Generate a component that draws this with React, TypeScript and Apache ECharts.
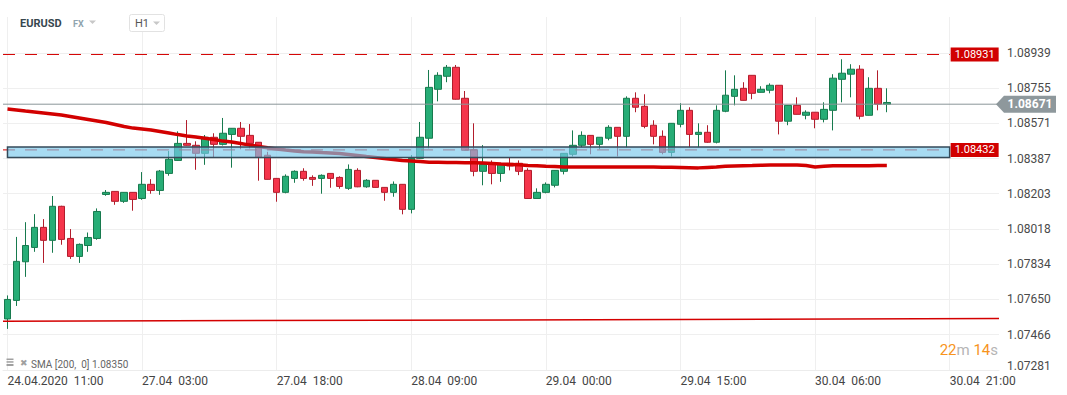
import React, { useEffect, useRef } from "react";
import * as echarts from "echarts";

// ---- data ----
const xTickLabels = [
  "24.04.2020  11:00",
  "27.04  03:00",
  "27.04  18:00",
  "28.04  09:00",
  "29.04  00:00",
  "29.04  15:00",
  "30.04  06:00",
  "30.04  21:00",
];
const tickEvery = 15;
const slotCount = 111;

const yTickValues = [1.07281, 1.07466, 1.0765, 1.07834, 1.08018, 1.08203, 1.08387, 1.08571, 1.08755, 1.08939];
const yMin = 1.07281;
const yMax = 1.09127;

// [open, close, low, high]
const candles = [
  [1.07548, 1.0765, 1.07496, 1.07671],
  [1.07645, 1.07849, 1.07616, 1.07977],
  [1.07847, 1.07932, 1.07768, 1.08054],
  [1.07922, 1.08027, 1.07899, 1.08096],
  [1.08027, 1.07959, 1.07841, 1.0807],
  [1.07959, 1.08137, 1.07894, 1.08191],
  [1.08137, 1.07964, 1.07936, 1.0814],
  [1.07969, 1.07875, 1.07862, 1.08018],
  [1.07875, 1.07938, 1.07841, 1.07943],
  [1.07932, 1.07974, 1.07899, 1.08],
  [1.07969, 1.0811, 1.07962, 1.08126],
  [1.08199, 1.0821, 1.08192, 1.08222],
  [1.08215, 1.08163, 1.08145, 1.08216],
  [1.08163, 1.0821, 1.08155, 1.08211],
  [1.0821, 1.08173, 1.08114, 1.08211],
  [1.08178, 1.08252, 1.08171, 1.08316],
  [1.08252, 1.0822, 1.08203, 1.08279],
  [1.0822, 1.08321, 1.08197, 1.08327],
  [1.08309, 1.08383, 1.08297, 1.08426],
  [1.08377, 1.08466, 1.08375, 1.08529],
  [1.08466, 1.08456, 1.08454, 1.08588],
  [1.08456, 1.08414, 1.08328, 1.08477],
  [1.08414, 1.08498, 1.08354, 1.0851],
  [1.08498, 1.08461, 1.08393, 1.08519],
  [1.08461, 1.08519, 1.08455, 1.08599],
  [1.08513, 1.08545, 1.08339, 1.08546],
  [1.08545, 1.08503, 1.08435, 1.08578],
  [1.08508, 1.08466, 1.0844, 1.08567],
  [1.08472, 1.08393, 1.08271, 1.08473],
  [1.08404, 1.08278, 1.08277, 1.08422],
  [1.08283, 1.0821, 1.08161, 1.08284],
  [1.0821, 1.08294, 1.08205, 1.08304],
  [1.08283, 1.0832, 1.0826, 1.08325],
  [1.0832, 1.08283, 1.08271, 1.08336],
  [1.08288, 1.08278, 1.08244, 1.08299],
  [1.08283, 1.08299, 1.08203, 1.08304],
  [1.08309, 1.08283, 1.08234, 1.0831],
  [1.08288, 1.08241, 1.08229, 1.08294],
  [1.08231, 1.0833, 1.08223, 1.08356],
  [1.08325, 1.08239, 1.08237, 1.08336],
  [1.08239, 1.08273, 1.08234, 1.08279],
  [1.08273, 1.08236, 1.08235, 1.08273],
  [1.08236, 1.0821, 1.08166, 1.08237],
  [1.0821, 1.08252, 1.08187, 1.08267],
  [1.08252, 1.08121, 1.08095, 1.08253],
  [1.08121, 1.08388, 1.081, 1.08405],
  [1.08388, 1.08498, 1.08386, 1.08578],
  [1.08493, 1.08759, 1.0844, 1.0885],
  [1.08749, 1.08822, 1.08686, 1.08838],
  [1.08817, 1.08864, 1.08786, 1.08876],
  [1.08864, 1.08697, 1.08695, 1.08876],
  [1.08702, 1.0843, 1.08428, 1.0874],
  [1.08433, 1.0832, 1.08294, 1.08571],
  [1.0832, 1.08356, 1.08247, 1.08457],
  [1.08356, 1.08309, 1.08252, 1.08377],
  [1.08309, 1.08356, 1.08265, 1.08357],
  [1.08362, 1.08348, 1.08325, 1.08391],
  [1.08362, 1.0832, 1.083, 1.08377],
  [1.08325, 1.08178, 1.08177, 1.08336],
  [1.08178, 1.0821, 1.08177, 1.08231],
  [1.0821, 1.08252, 1.08205, 1.08262],
  [1.08247, 1.08325, 1.08236, 1.08326],
  [1.0832, 1.08414, 1.08304, 1.08415],
  [1.08409, 1.08456, 1.08398, 1.08534],
  [1.08456, 1.08508, 1.08445, 1.08529],
  [1.08508, 1.08461, 1.08409, 1.08509],
  [1.08461, 1.08498, 1.08435, 1.08498],
  [1.08493, 1.0855, 1.08482, 1.08561],
  [1.0855, 1.08503, 1.08398, 1.08551],
  [1.08503, 1.08702, 1.08445, 1.08712],
  [1.08702, 1.08655, 1.08629, 1.08733],
  [1.0866, 1.08555, 1.08545, 1.08723],
  [1.08561, 1.08503, 1.08461, 1.08587],
  [1.08503, 1.08419, 1.08409, 1.08534],
  [1.08419, 1.08571, 1.08398, 1.08572],
  [1.08566, 1.08639, 1.0855, 1.08676],
  [1.08639, 1.08513, 1.08445, 1.08655],
  [1.08513, 1.08524, 1.08445, 1.08571],
  [1.08524, 1.08472, 1.08469, 1.08561],
  [1.08472, 1.08639, 1.08466, 1.08665],
  [1.08634, 1.08718, 1.08629, 1.08848],
  [1.08712, 1.08749, 1.08665, 1.08822],
  [1.08754, 1.08691, 1.0869, 1.08786],
  [1.08822, 1.08728, 1.08697, 1.08823],
  [1.08733, 1.08749, 1.08732, 1.08765],
  [1.08744, 1.0877, 1.08728, 1.0878],
  [1.0877, 1.08582, 1.08513, 1.08771],
  [1.08582, 1.08665, 1.08561, 1.08666],
  [1.08665, 1.08618, 1.08617, 1.08707],
  [1.08613, 1.08629, 1.08592, 1.08639],
  [1.08629, 1.08592, 1.08545, 1.0863],
  [1.08592, 1.08644, 1.08576, 1.08681],
  [1.08639, 1.08807, 1.08534, 1.08828],
  [1.08801, 1.08833, 1.08681, 1.08906],
  [1.08828, 1.08854, 1.08707, 1.0888],
  [1.08854, 1.08608, 1.08592, 1.08875],
  [1.08613, 1.08754, 1.08612, 1.08812],
  [1.08754, 1.08671, 1.08639, 1.08848],
  [1.08671, 1.0868, 1.08629, 1.08754],
];

const sma200 = [
  1.08646, 1.08641, 1.08635, 1.0863, 1.08625, 1.0862, 1.08614, 1.08607, 1.08599, 1.08591,
  1.08583, 1.08575, 1.08565, 1.08554, 1.08546, 1.08541, 1.08536, 1.08528, 1.0852, 1.08512,
  1.08505, 1.08499, 1.08493, 1.08486, 1.08478, 1.08473, 1.08465, 1.08457, 1.0845, 1.08443,
  1.08437, 1.08431, 1.08426, 1.08422, 1.08421, 1.08418, 1.08416, 1.08413, 1.08408, 1.08403,
  1.08397, 1.08392, 1.08387, 1.08382, 1.08376, 1.08374, 1.08371, 1.08368, 1.08367, 1.08366,
  1.08366, 1.08365, 1.08365, 1.08363, 1.08361, 1.08358, 1.08356, 1.08354, 1.08351, 1.08349,
  1.08346, 1.08345, 1.08343, 1.08342, 1.08342, 1.08342, 1.08342, 1.08342, 1.08342, 1.08342,
  1.08342, 1.08342, 1.08342, 1.08341, 1.08341, 1.0834, 1.08339, 1.08338, 1.0834, 1.08342,
  1.08346, 1.08348, 1.08349, 1.0835, 1.08352, 1.08353, 1.08353, 1.08353, 1.08353, 1.0835,
  1.08343, 1.08346, 1.08349, 1.08349, 1.08349, 1.08349, 1.08349, 1.0835, 1.0835,
];

const resistanceLevel = 1.08931;
const supportLevel = 1.08432;
const supportZone = [1.08447, 1.08392]; // top, bottom
const currentPrice = 1.08671;
const trendLine = [1.07536, 1.0755]; // left, right
const levelEndIndex = 105;

const countdown = ["22", "14"];

const FONT = "Roboto";

export default function App() {
  const ref = useRef<HTMLDivElement | null>(null);

  useEffect(() => {
    if (!ref.current) return;
    const chart = echarts.init(ref.current, undefined, { renderer: "svg" });
    const categories = Array.from({ length: slotCount }, (_, i) => String(i));
    const xEdgeMin = -0.5;
    const xEdgeMax = slotCount - 0.5;

    const redTag = (value: number) => ({
      symbol: "rect",
      symbolSize: [48, 14],
      symbolOffset: [25, 0],
      silent: true,
      label: {
        show: true,
        position: "inside",
        color: "#fff",
        fontSize: 11,
        fontFamily: FONT,
        formatter: () => value.toFixed(5),
      },
      itemStyle: { color: "#d10000" },
      data: [{ coord: [levelEndIndex, value], value }],
    });

    const option: any = {
      animation: false,
      textStyle: { fontFamily: FONT },
      grid: { left: 3, right: 68, top: 17, bottom: 25, containLabel: false },
      xAxis: [
        {
          type: "category",
          data: categories,
          boundaryGap: true,
          axisLine: { show: true, lineStyle: { color: "#ececec", width: 1 } },
          axisTick: { show: false, interval: tickEvery - 1, alignWithLabel: true },
          axisLabel: {
            interval: tickEvery - 1,
            align: "left",
            margin: 5,
            fontSize: 12,
            color: "#444",
            fontFamily: FONT,
            formatter: (v: string) => {
              const i = Number(v);
              return i % tickEvery === 0 ? xTickLabels[i / tickEvery] ?? "" : "";
            },
          },
          splitLine: {
            show: true,
            interval: tickEvery - 1,
            alignWithLabel: true,
            lineStyle: { color: "#efefef", width: 1 },
          },
        },
        {
          type: "value",
          show: false,
          min: xEdgeMin,
          max: xEdgeMax,
          splitLine: { show: false },
        },
      ],
      yAxis: {
        type: "value",
        position: "right",
        min: yMin,
        max: yMax,
        scale: true,
        axisLine: { show: false },
        axisTick: { show: false, customValues: yTickValues },
        axisLabel: {
          customValues: yTickValues,
          margin: 8,
          fontSize: 12,
          color: "#4a4a4a",
          fontFamily: FONT,
          formatter: (v: number) =>
            Math.abs(v - yMin) < 1e-7 ? `{low|${v.toFixed(5)}}` : v.toFixed(5),
          rich: {
            low: { padding: [0, 0, 9, 0], fontSize: 12, color: "#4a4a4a", fontFamily: FONT },
          },
        },
        splitLine: { show: true, lineStyle: { color: "#efefef", width: 1 } },
      },
      series: [
        {
          type: "candlestick",
          xAxisIndex: 0,
          data: candles,
          barWidth: 7,
          z: 2,
          itemStyle: {
            color: "#27ad76",
            color0: "#f5354b",
            borderColor: "#177a4e",
            borderColor0: "#b21d2c",
            borderWidth: 1,
          },
        },
        {
          type: "line",
          name: "SMA",
          xAxisIndex: 0,
          data: sma200,
          showSymbol: false,
          symbol: "none",
          z: 3,
          lineStyle: { color: "#d20000", width: 3.5 },
        },
        {
          type: "line",
          xAxisIndex: 1,
          data: [
            [xEdgeMin, trendLine[0]],
            [xEdgeMax, trendLine[1]],
          ],
          symbol: "none",
          z: 3,
          lineStyle: { color: "#d40000", width: 1.5 },
        },
        {
          type: "line",
          xAxisIndex: 1,
          data: [
            [xEdgeMin, supportLevel],
            [levelEndIndex, supportLevel],
          ],
          symbol: "none",
          z: 3,
          lineStyle: { color: "#d40000", width: 1, type: [12, 10] },
          markPoint: redTag(supportLevel),
        },
        {
          type: "custom",
          xAxisIndex: 1,
          z: 4,
          silent: true,
          data: [[0, levelEndIndex, supportZone[0], supportZone[1]]],
          encode: { x: [0, 1], y: [2, 3] },
          renderItem: (params: any, api: any) => {
            const p1 = api.coord([api.value(0), api.value(2)]);
            const p2 = api.coord([api.value(1), api.value(3)]);
            return {
              type: "rect",
              shape: { x: p1[0], y: p1[1], width: p2[0] - p1[0], height: p2[1] - p1[1] },
              style: { fill: "rgba(120,200,235,0.65)", stroke: "#354a59", lineWidth: 1.5 },
            };
          },
        },
        {
          type: "line",
          xAxisIndex: 1,
          data: [
            [xEdgeMin, resistanceLevel],
            [levelEndIndex, resistanceLevel],
          ],
          symbol: "none",
          z: 5,
          lineStyle: { color: "#d40000", width: 1, type: [12, 10] },
          markPoint: redTag(resistanceLevel),
        },
        {
          type: "line",
          xAxisIndex: 1,
          data: [
            [xEdgeMin, currentPrice],
            [xEdgeMax, currentPrice],
          ],
          symbol: "none",
          z: 5,
          lineStyle: { color: "#8a9599", width: 1 },
          markPoint: {
            symbol: "path://M0,8.5L8,0L60,0L60,17L8,17Z",
            symbolSize: [60, 17],
            symbolOffset: [27, 0],
            silent: true,
            itemStyle: { color: "#8e989c" },
            label: {
              show: true,
              position: "inside",
              offset: [4, 0],
              color: "#fff",
              fontWeight: "bold",
              fontSize: 12,
              fontFamily: FONT,
              formatter: () => currentPrice.toFixed(5),
            },
            data: [{ coord: [xEdgeMax, currentPrice], value: currentPrice }],
          },
        },
      ],
      graphic: [
        {
          type: "text",
          x: 20,
          y: 23,
          z: 100,
          style: { text: "EURUSD", fontSize: 11, fontWeight: "bold", fontFamily: FONT, fill: "#37474f", verticalAlign: "middle" },
        },
        {
          type: "text",
          x: 73,
          y: 23.5,
          z: 100,
          style: { text: "FX", fontSize: 9, fontWeight: "bold", fontFamily: FONT, fill: "#90a4ae", verticalAlign: "middle" },
        },
        {
          type: "polygon",
          z: 100,
          shape: { points: [[89, 20.5], [96, 20.5], [92.5, 24]] },
          style: { fill: "#c8c8c8" },
        },
        {
          type: "rect",
          z: 100,
          shape: { x: 129.5, y: 14.5, width: 35, height: 17, r: 2 },
          style: { fill: "#fff", stroke: "#e2e2e2", lineWidth: 1 },
        },
        {
          type: "text",
          x: 135,
          y: 23,
          z: 101,
          style: { text: "H1", fontSize: 11, fontFamily: FONT, fill: "#555", verticalAlign: "middle" },
        },
        {
          type: "polygon",
          z: 101,
          shape: { points: [[153, 21.5], [160, 21.5], [156.5, 25]] },
          style: { fill: "#c8c8c8" },
        },
        // legend icons
        { type: "rect", z: 100, shape: { x: 6.5, y: 358.5, width: 7, height: 1.5 }, style: { fill: "#a0a0a0" } },
        { type: "rect", z: 100, shape: { x: 6.5, y: 361.2, width: 7, height: 1.5 }, style: { fill: "#a0a0a0" } },
        { type: "rect", z: 100, shape: { x: 6.5, y: 364, width: 7, height: 2 }, style: { fill: "#a0a0a0" } },
        {
          type: "text",
          x: 20,
          y: 362.5,
          z: 100,
          style: { text: "✖", fontSize: 9, fill: "#a0a0a0", verticalAlign: "middle" },
        },
        {
          type: "text",
          x: 31,
          y: 364,
          z: 100,
          style: {
            text: `SMA [200,  0] ${sma200[sma200.length - 1].toFixed(5)}`,
            fontSize: 10,
            fontFamily: FONT,
            fill: "#666",
            verticalAlign: "middle",
          },
        },
        {
          type: "text",
          x: 998,
          y: 350,
          z: 100,
          style: {
            text: `{o|${countdown[0]}}{g|m} {o|${countdown[1]}}{g|s}`,
            align: "right",
            verticalAlign: "middle",
            fontSize: 15,
            fontFamily: FONT,
            rich: {
              o: { fill: "#f7941d", fontSize: 15, fontFamily: FONT },
              g: { fill: "#b5b5b5", fontSize: 15, fontFamily: FONT },
            },
          },
        },
      ],
    };

    chart.setOption(option);
    return () => chart.dispose();
  }, []);

  return (
    <div
      ref={ref}
      style={{ position: "fixed", left: 0, top: 0, width: 1067, height: 395, background: "#fff" }}
    />
  );
}
